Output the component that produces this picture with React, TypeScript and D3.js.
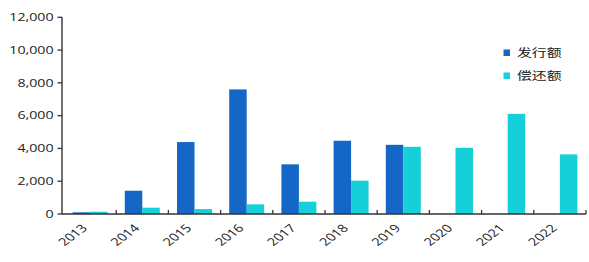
import React from "react";
import * as d3 from "d3";

const years = ["2013", "2014", "2015", "2016", "2017", "2018", "2019", "2020", "2021", "2022"];
const issuance = [100, 1420, 4390, 7600, 3030, 4470, 4220, 0, 0, 0];
const repayment = [140, 385, 300, 590, 750, 2030, 4100, 4040, 6110, 3635];
const yTicks = [0, 2000, 4000, 6000, 8000, 10000, 12000];
const seriesNames = ["发行额", "偿还额"];
const colors = ["#1467c6", "#15d0d8"];

const W = 589;
const H = 262;
const SX = 1.35;

export default function App() {
  const x = d3.scaleBand<string>().domain(years).range([64, 586]).paddingInner(0.33).paddingOuter(0.165);
  const step = x.step();
  const sub = d3.scaleBand<number>().domain([0, 1]).range([0, x.bandwidth()]);
  const y = d3.scaleLinear().domain([0, 12000]).range([214, 17.3]);
  const fmt = d3.format(",");
  const axisX = 62;
  const baseY = y(0);
  const series = [issuance, repayment];
  const boundaries = years.map((_, i) => 64 + step * (i + 1));

  return (
    <svg
      width={W}
      height={H}
      style={{ position: "absolute", left: 0, top: 0, background: "#fff" }}
      fontFamily="'Open Sans', 'Noto Sans', sans-serif"
    >
      {/* bars */}
      {series.map((vals, si) =>
        vals.map((v, i) =>
          v > 0 ? (
            <rect
              key={`${si}-${i}`}
              x={(x(years[i]) as number) + (sub(si) as number)}
              y={y(v)}
              width={sub.bandwidth()}
              height={baseY - y(v)}
              fill={colors[si]}
            />
          ) : null
        )
      )}
      {/* y axis */}
      <line x1={axisX} x2={axisX} y1={y(12000)} y2={baseY} stroke="#333" strokeWidth={1.4} />
      {yTicks.map((t) => (
        <g key={t}>
          <line x1={axisX - 4.5} x2={axisX} y1={y(t)} y2={y(t)} stroke="#333" strokeWidth={1.3} />
          <text
            transform={`translate(${axisX - 8.5},${y(t)}) scale(${SX},1)`}
            textAnchor="end"
            dy="0.36em"
            fontSize={10.5}
            fill="#222"
          >
            {fmt(t)}
          </text>
        </g>
      ))}
      {/* x axis */}
      <line x1={axisX} x2={586} y1={baseY} y2={baseY} stroke="#333" strokeWidth={1.4} />
      {boundaries.map((bx, i) => (
        <line key={i} x1={bx} x2={bx} y1={baseY} y2={baseY - 4} stroke="#333" strokeWidth={1.3} />
      ))}
      {years.map((yr) => (
        <text
          key={yr}
          transform={`translate(${(x(yr) as number) + x.bandwidth() / 2 - 2},${baseY + 15}) scale(${SX},1) rotate(-45)`}
          textAnchor="end"
          fontSize={10.8}
          fill="#222"
        >
          {yr}
        </text>
      ))}
      {/* legend */}
      {seriesNames.map((n, i) => (
        <g key={n}>
          <rect x={503.5} y={49.5 + i * 23} width={6.5} height={6.5} fill={colors[i]} />
          <text
            transform={`translate(517,${53 + i * 23}) scale(${SX},1)`}
            dy="0.36em"
            fontSize={11}
            fontFamily="'Noto Sans CJK SC', sans-serif"
            fill="#222"
          >
            {n}
          </text>
        </g>
      ))}
    </svg>
  );
}
